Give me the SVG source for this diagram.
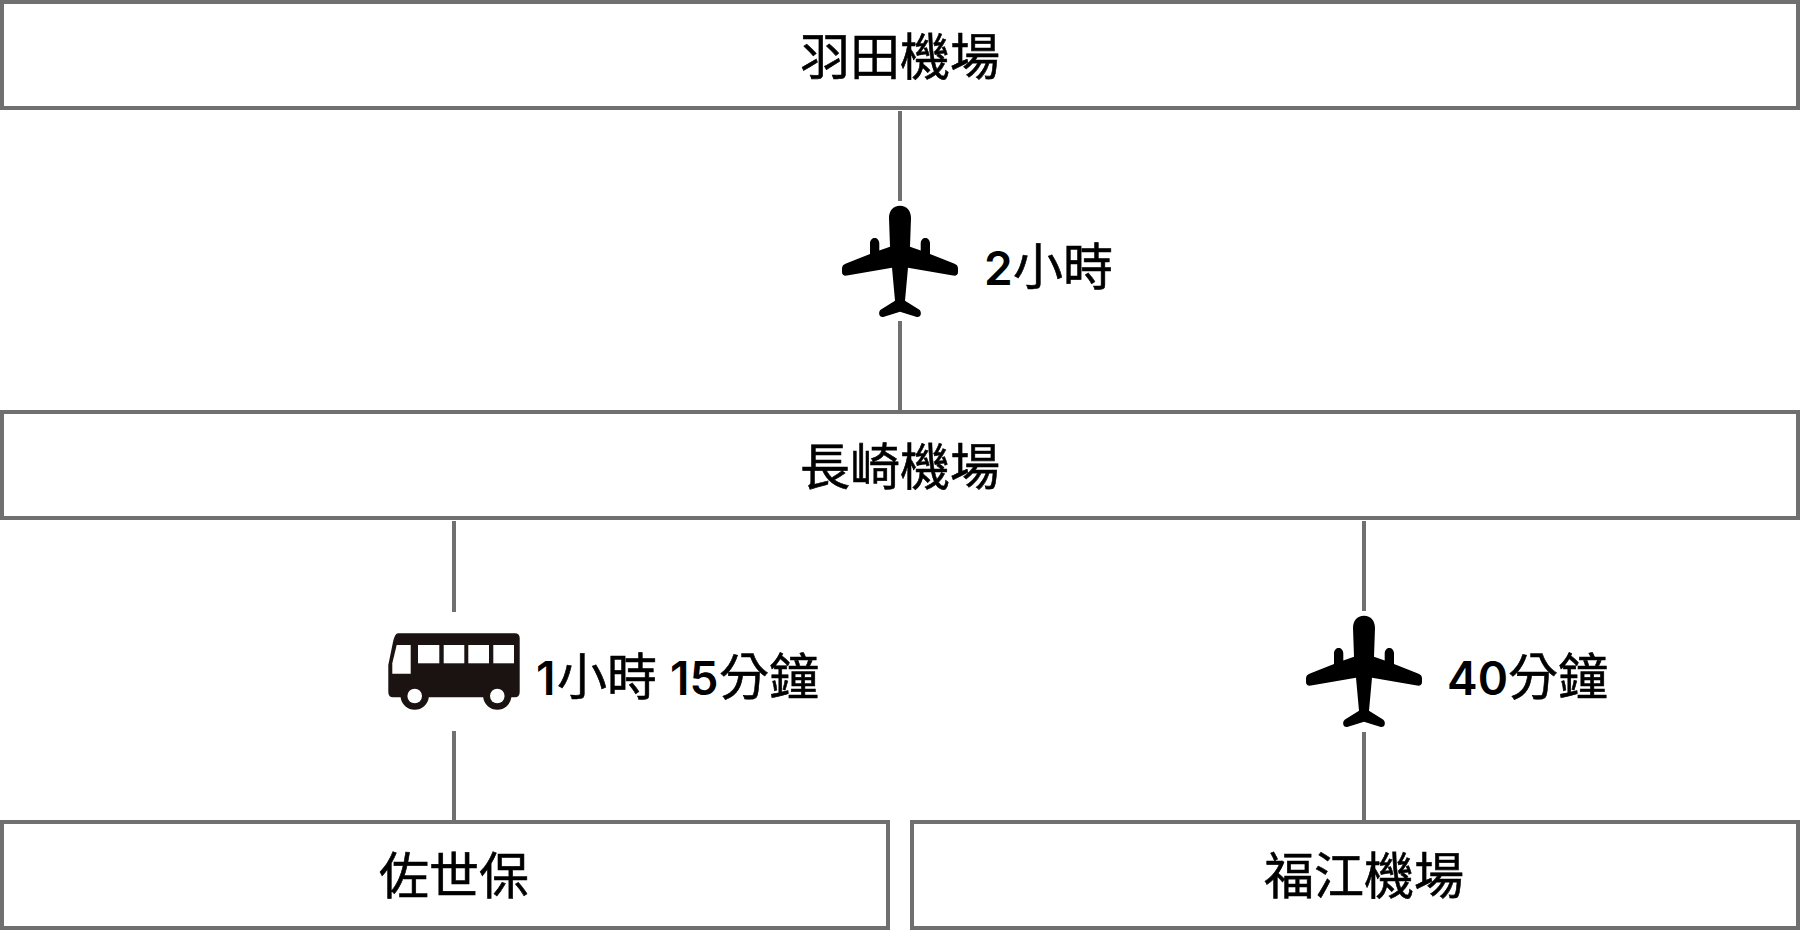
<svg xmlns="http://www.w3.org/2000/svg" width="1800" height="930" viewBox="0 0 1800 930">
<style>
.box{fill:#fff;stroke:#707070;stroke-width:4}
.line{stroke:#707070;stroke-width:4;fill:none}
.t{font-family:"Noto Sans CJK TC","Noto Sans CJK JP",sans-serif;fill:#000;font-weight:400;stroke:#000;stroke-width:.6}
.n{font-size:50px;text-anchor:middle}
.l{font-size:50px}
.d{font-family:Inter,"Noto Sans CJK TC",sans-serif;font-weight:600;font-size:46px;stroke:none}
</style>
<defs>
<path id="plane" d="M0 205.7C-7 205.7-11 211-11 218L-10 246.7-20.7 250.5V243.5C-20.7 236-30 236-30 243.5V254L-54 263.5C-57 264.7-58 266-58 269V272C-58 275-56 276-53 275.6L-8 267.7-5 300.7-19 309.5C-21 311-21 313-20.7 314.5-20 317-18 317.3-16 316.8L0 311.7 16 316.8C18 317.3 20 317 20.7 314.5 21 313 21 311 19 309.5L5 300.7 8 267.7 53 275.6C56 276 58 275 58 272V269C58 266 57 264.7 54 263.5L30 254V243.5C30 236 20.7 236 20.7 243.5V250.5L10 246.7 11 218C11 211 7 205.7 0 205.7Z"/>
</defs>
<g id="connectors">
<path class="line" d="M900 111V201M900 321V410M454 521V612M454 731V820M1364 521V611M1364 732V820"/>
</g>
<g id="node-haneda"><rect class="box" x="2" y="2" width="1796" height="106"/><text class="t n" x="900" y="75">羽田機場</text></g>
<g id="node-nagasaki"><rect class="box" x="2" y="412" width="1796" height="106"/><text class="t n" x="900" y="485">長崎機場</text></g>
<g id="node-sasebo"><rect class="box" x="2" y="822" width="886" height="106"/><text class="t n" x="454" y="894">佐世保</text></g>
<g id="node-fukue"><rect class="box" x="912" y="822" width="886" height="106"/><text class="t n" x="1364" y="894">福江機場</text></g>
<g id="route-haneda-nagasaki"><use href="#plane" x="900"/><text class="t l" y="285"><tspan class="d" x="984">2</tspan><tspan x="1013">小時</tspan></text></g>
<g id="route-nagasaki-sasebo">
<path fill="#1a1311" d="M398 633.3H515C518 633.3 519.7 635 519.7 638V692C519.7 695.5 518 697.3 515 697.3H511.4A14.2 14.2 0 0 1 483.2 697.3H428.8A14.2 14.2 0 0 1 400.6 697.3H393C390 697.3 388.3 695.5 388.3 692V665L393 642C394.5 636 396 633.3 398 633.3Z"/>
<g fill="#fff"><path d="M396.7 645H410.7V673.7H392.3V663.3Z"/><rect x="418" y="645" width="21.3" height="18.3"/><rect x="443.7" y="645" width="20.6" height="18.3"/><rect x="468.3" y="645" width="20.7" height="18.3"/><rect x="493.3" y="645" width="20.7" height="18.3"/><circle cx="414.7" cy="696" r="7.3"/><circle cx="497.3" cy="696" r="7.3"/></g>
<text class="t l" y="695"><tspan class="d" x="536">1</tspan><tspan x="557">小時</tspan><tspan class="d" x="670">15</tspan><tspan x="719">分鐘</tspan></text></g>
<g id="route-nagasaki-fukue"><use href="#plane" x="1364" y="410"/><text class="t l" y="695"><tspan class="d" x="1447">40</tspan><tspan x="1508">分鐘</tspan></text></g>
</svg>
